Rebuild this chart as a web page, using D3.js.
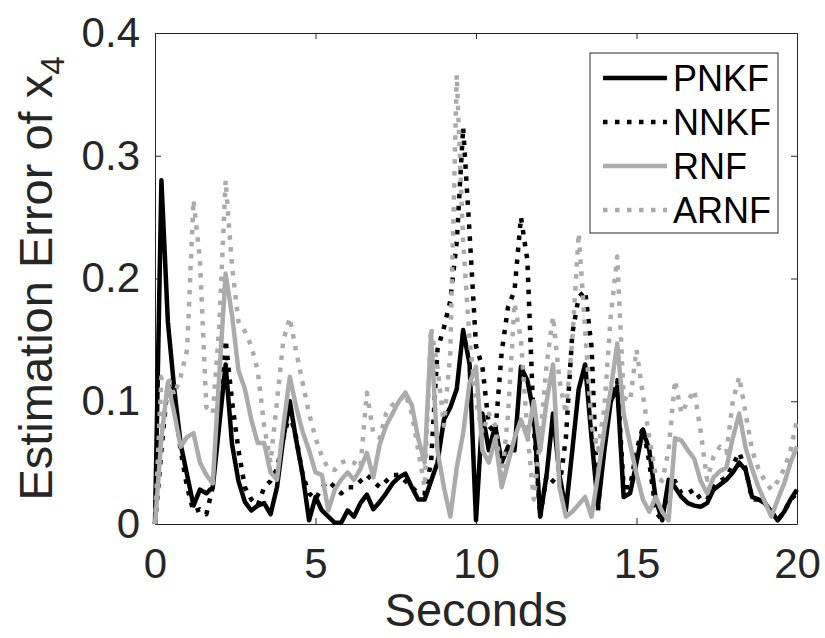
<!DOCTYPE html>
<html>
<head>
<meta charset="utf-8">
<script src="https://cdn.jsdelivr.net/npm/d3@7"></script>
<style>
	body { margin: 0; background: #fff; }
	#chart { width: 825px; height: 638px; }
</style>
</head>
<body>
<div id="chart"></div>
<script>
/* estimation error of x4 */

// sample times, 0.2 s apart
var seconds = d3.range(101).map(i => +(i * 0.2).toFixed(1));

var pnkf = [
	0, 0.28, 0.165, 0.11, 0.065, 0.04, 0.015, 0.028, 0.025, 0.03,
	0.08, 0.13, 0.065, 0.035, 0.018, 0.011, 0.015, 0.017, 0.008, 0.03,
	0.07, 0.1, 0.068, 0.04, 0.003, 0.022, 0.011, 0.006, 0.001, 0.001,
	0.011, 0.006, 0.017, 0.024, 0.012, 0.018, 0.025, 0.033, 0.038, 0.041,
	0.03, 0.02, 0.02, 0.035, 0.05, 0.085, 0.095, 0.11, 0.158, 0.13,
	0.003, 0.09, 0.06, 0.08, 0.05, 0.063, 0.06, 0.128, 0.117, 0.09,
	0.006, 0.04, 0.09, 0.04, 0.011, 0.06, 0.11, 0.13, 0.07, 0.014,
	0.06, 0.1, 0.112, 0.022, 0.025, 0.05, 0.077, 0.06, 0.02, 0.003,
	0.036, 0.03, 0.022, 0.017, 0.015, 0.014, 0.017, 0.028, 0.032, 0.036,
	0.042, 0.05, 0.044, 0.022, 0.02, 0.017, 0.01, 0.003, 0.01, 0.02,
	0.028
];

var nnkf = [
	0, 0.06, 0.115, 0.1, 0.06, 0.03, 0.01, 0.012, 0.008, 0.03,
	0.1, 0.15, 0.1, 0.06, 0.03, 0.02, 0.015, 0.03, 0.035, 0.045,
	0.07, 0.09, 0.07, 0.04, 0.025, 0.02, 0.03, 0.035, 0.03, 0.025,
	0.03, 0.03, 0.035, 0.04, 0.035, 0.03, 0.035, 0.04, 0.04, 0.035,
	0.03, 0.025, 0.025, 0.05, 0.142, 0.16, 0.182, 0.23, 0.323, 0.237,
	0.145, 0.128, 0.08, 0.074, 0.14, 0.177, 0.19, 0.25, 0.215, 0.08,
	0.006, 0.04, 0.035, 0.03, 0.07, 0.155, 0.185, 0.19, 0.144, 0.011,
	0.08, 0.105, 0.117, 0.03, 0.03, 0.06, 0.079, 0.05, 0.01, 0.003,
	0.03, 0.035, 0.025, 0.025, 0.028, 0.02, 0.02, 0.03, 0.035, 0.038,
	0.048, 0.058, 0.045, 0.02, 0.02, 0.017, 0.01, 0.003, 0.01, 0.02,
	0.025
];

var rnf = [
	0, 0.07, 0.115, 0.09, 0.063, 0.071, 0.074, 0.05, 0.04, 0.033,
	0.12, 0.204, 0.17, 0.125, 0.11, 0.085, 0.066, 0.066, 0.042, 0.036,
	0.08, 0.12, 0.095, 0.075, 0.06, 0.042, 0.04, 0.011, 0.028, 0.036,
	0.042, 0.036, 0.045, 0.058, 0.038, 0.065, 0.08, 0.09, 0.1, 0.107,
	0.097, 0.07, 0.05, 0.155, 0.06, 0.03, 0.006, 0.046, 0.074, 0.115,
	0.128, 0.06, 0.05, 0.07, 0.03, 0.05, 0.07, 0.085, 0.07, 0.1,
	0.06, 0.1, 0.13, 0.03, 0.006, 0.01, 0.016, 0.022, 0.006, 0.04,
	0.077, 0.11, 0.147, 0.09, 0.065, 0.041, 0.02, 0.01, 0.022, 0.01,
	0.003, 0.07, 0.068, 0.06, 0.053, 0.035, 0.025, 0.038, 0.043, 0.046,
	0.07, 0.09, 0.062, 0.045, 0.03, 0.018, 0.006, 0.02, 0.033, 0.05,
	0.063
];

var arnf = [
	0, 0.12, 0.12, 0.105, 0.12, 0.142, 0.264, 0.215, 0.095, 0.09,
	0.16, 0.28, 0.21, 0.165, 0.157, 0.145, 0.125, 0.08, 0.05, 0.1,
	0.15, 0.168, 0.14, 0.115, 0.09, 0.07, 0.055, 0.045, 0.044, 0.05,
	0.052, 0.05, 0.046, 0.107, 0.074, 0.07, 0.09, 0.097, 0.1, 0.106,
	0.09, 0.06, 0.03, 0.16, 0.128, 0.08, 0.14, 0.366, 0.23, 0.15,
	0.1, 0.074, 0.09, 0.08, 0.035, 0.09, 0.18, 0.15, 0.074, 0.02,
	0.07, 0.13, 0.169, 0.117, 0.09, 0.15, 0.237, 0.158, 0.08, 0.06,
	0.095, 0.17, 0.218, 0.103, 0.1, 0.142, 0.105, 0.07, 0.04, 0.035,
	0.06, 0.117, 0.09, 0.1, 0.109, 0.075, 0.036, 0.055, 0.063, 0.058,
	0.1, 0.12, 0.09, 0.06, 0.045, 0.035, 0.028, 0.035, 0.045, 0.06,
	0.085
];

var seriesNames = ['PNKF', 'NNKF', 'RNF', 'ARNF'];
var xTicks = [0, 5, 10, 15, 20];
var yTicks = [0, 0.1, 0.2, 0.3, 0.4];
var yTickLabels = ['0', '0.1', '0.2', '0.3', '0.4'];


var ErrorChart = function(config){
	this.targetID = config.targetID;

	// Creation sequence
	this.setupData();
	this.createSVG();
	this.setupHelpers();
	this.addAxes();
	this.addLines();
	this.addLegend();
}

ErrorChart.prototype.setupData = function(){
	/*
	Zips the named arrays into one row per series
	*/
	let values = [pnkf, nnkf, rnf, arnf];
	let styles = [
		{color: '#000000', dash: null},
		{color: '#000000', dash: '4.5,7.5'},
		{color: '#ababab', dash: null},
		{color: '#ababab', dash: '4.5,7.5'}
	];
	this.series = seriesNames.map((name, i) => ({
		name: name,
		color: styles[i].color,
		dash: styles[i].dash,
		points: seconds.map((t, j) => ({t: t, v: values[i][j]}))
	}));
}

ErrorChart.prototype.createSVG = function(){
	/*
	Creates the svg and the plot box
	*/
	this.width = 825;
	this.height = 638;
	this.margin = {top: 33, right: 28, bottom: 114, left: 155};

	this.plotW = this.width - this.margin.left - this.margin.right;
	this.plotH = this.height - this.margin.top - this.margin.bottom;

	this.svg = d3.select('#' + this.targetID).append('svg')
		.attr('width', this.width)
		.attr('height', this.height)
		.style('font-family', '"Liberation Sans", Arial, sans-serif');

	this.g = this.svg.append('g')
		.attr('transform', `translate(${this.margin.left}, ${this.margin.top})`);
}

ErrorChart.prototype.setupHelpers = function(){
	this.x = d3.scaleLinear()
		.domain([0, 20])
		.range([0, this.plotW]);

	this.y = d3.scaleLinear()
		.domain([0, 0.4])
		.range([this.plotH, 0]);

	this.line = d3.line()
		.x(d => this.x(d.t))
		.y(d => this.y(d.v));
}

ErrorChart.prototype.addAxes = function(){
	/*
	MATLAB style box: ticks pointing inward on all four sides
	*/
	let axisColor = '#262626';

	let bottom = this.g.append('g')
		.attr('transform', `translate(0, ${this.plotH})`)
		.call(d3.axisBottom(this.x).tickValues(xTicks).tickFormat(d3.format('d'))
			.tickSizeInner(-6).tickSizeOuter(0).tickPadding(24));

	let left = this.g.append('g')
		.call(d3.axisLeft(this.y).tickValues(yTicks).tickFormat((d, i) => yTickLabels[i])
			.tickSizeInner(-6).tickSizeOuter(0).tickPadding(15));

	let top = this.g.append('g')
		.call(d3.axisTop(this.x).tickValues(xTicks).tickFormat('')
			.tickSizeInner(-6).tickSizeOuter(0));

	let right = this.g.append('g')
		.attr('transform', `translate(${this.plotW}, 0)`)
		.call(d3.axisRight(this.y).tickValues(yTicks).tickFormat('')
			.tickSizeInner(-6).tickSizeOuter(0));

	[bottom, left, top, right].forEach(a => {
		a.selectAll('path, line').attr('stroke', axisColor).attr('stroke-width', 1);
		a.selectAll('text')
			.attr('fill', axisColor)
			.style('font-size', '42px')
			.style('font-family', '"Liberation Sans", Arial, sans-serif');
	});

	// axis titles
	this.svg.append('text')
		.attr('x', this.margin.left + this.plotW / 2)
		.attr('y', 626)
		.attr('text-anchor', 'middle')
		.attr('fill', axisColor)
		.style('font-size', '47px')
		.text('Seconds');

	let ylab = this.svg.append('text')
		.attr('transform', `translate(52, ${this.margin.top + this.plotH / 2}) rotate(-90)`)
		.attr('text-anchor', 'middle')
		.attr('fill', axisColor)
		.style('font-size', '47px');
	ylab.append('tspan').text('Estimation Error of x');
	ylab.append('tspan')
		.attr('dy', 12)
		.style('font-size', '33px')
		.text('4');
}

ErrorChart.prototype.addLines = function(){
	this.g.selectAll('.series')
		.data(this.series)
		.enter()
		.append('path')
		.attr('class', 'series')
		.attr('d', d => this.line(d.points))
		.attr('fill', 'none')
		.attr('stroke', d => d.color)
		.attr('stroke-width', 4.5)
		.attr('stroke-linejoin', 'round')
		.attr('stroke-dasharray', d => d.dash);
}

ErrorChart.prototype.addLegend = function(){
	/*
	Legend box in the upper right corner
	*/
	let lg = this.svg.append('g')
		.attr('transform', 'translate(590, 53)');

	lg.append('rect')
		.attr('width', 188)
		.attr('height', 180)
		.attr('fill', '#fff')
		.attr('stroke', '#262626')
		.attr('stroke-width', 1);

	let rows = lg.selectAll('.entry')
		.data(this.series)
		.enter()
		.append('g')
		.attr('transform', (d, i) => `translate(0, ${25 + i * 44})`);

	rows.append('line')
		.attr('x1', 13)
		.attr('x2', 77)
		.attr('stroke', d => d.color)
		.attr('stroke-width', 4.5)
		.attr('stroke-dasharray', d => d.dash);

	rows.append('text')
		.attr('x', 83)
		.attr('y', 13)
		.attr('fill', '#000')
		.style('font-size', '36px')
		.text(d => d.name);
}

new ErrorChart({targetID: 'chart'});
</script>
</body>
</html>
